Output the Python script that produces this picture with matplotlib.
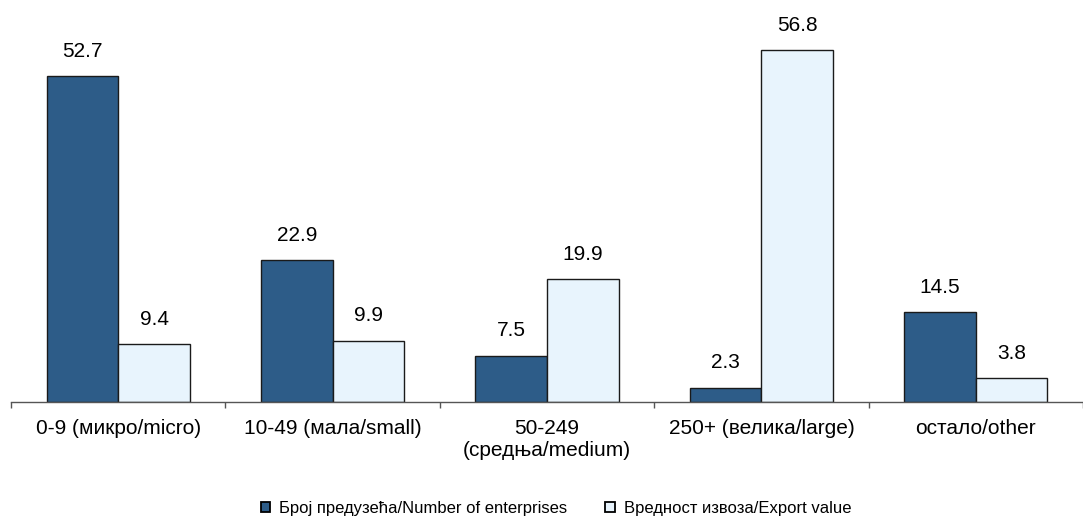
import matplotlib
matplotlib.use("Agg")
import matplotlib.pyplot as plt
import numpy as np
from matplotlib.patches import Patch

categories = ["0-9 (микро/micro)", "10-49 (мала/small)", "50-249\n(средња/medium)",
              "250+ (велика/large)", "остало/other"]
enterprises = [52.7, 22.9, 7.5, 2.3, 14.5]
export_value = [9.4, 9.9, 19.9, 56.8, 3.8]
series_names = ["Број предузећа/Number of enterprises", "Вредност извоза/Export value"]

plt.rcParams['font.family'] = ['Liberation Sans', 'DejaVu Sans']

W, H = 1083, 518
fig = plt.figure(figsize=(W / 100, H / 100), dpi=100)
ax = fig.add_axes([11 / W, (H - 402) / H, (W - 11) / W, 402 / H])

x = np.arange(len(categories))
bw = 0.334
dark = "#2D5C88"
light = "#E8F4FD"
b1 = ax.bar(x - bw / 2, enterprises, bw, color=dark, edgecolor="#1a1a1a", linewidth=1.0)
b2 = ax.bar(x + bw / 2, export_value, bw, color=light, edgecolor="#1a1a1a", linewidth=1.0)

for bars, vals in ((b1, enterprises), (b2, export_value)):
    for rect, v in zip(bars, vals):
        ax.annotate(f"{v:.1f}", (rect.get_x() + rect.get_width() / 2, v),
                    xytext=(0, 11), textcoords="offset points",
                    ha="center", va="bottom", fontsize=15)

ax.set_xlim(-0.5, (W - 11) / 217.0 - 0.5)
ax.set_ylim(0, 402 / 6.19)
for s in ["top", "right", "left"]:
    ax.spines[s].set_visible(False)
ax.spines["bottom"].set_color("#555555")
ax.spines["bottom"].set_linewidth(1.0)
ax.set_yticks([])

ax.set_xticks(x)
ax.set_xticklabels(categories, fontsize=15, linespacing=1.2)
ax.tick_params(axis="x", which="major", length=0, pad=12)
ax.set_xticks(np.arange(-0.5, len(categories) - 0.4, 1), minor=True)
ax.tick_params(axis="x", which="minor", length=4, width=1, color="#555555", direction="out")

handles = [Patch(facecolor=dark, edgecolor="black", linewidth=1.3),
           Patch(facecolor=light, edgecolor="black", linewidth=1.3)]
fig.legend(handles, series_names, loc="center", bbox_to_anchor=(556 / W, 1 - 508 / H),
           ncol=2, frameon=False, fontsize=12, handlelength=0.55, handleheight=0.55,
           handletextpad=0.55, columnspacing=2.3)

fig.savefig("out.png", dpi=100)
